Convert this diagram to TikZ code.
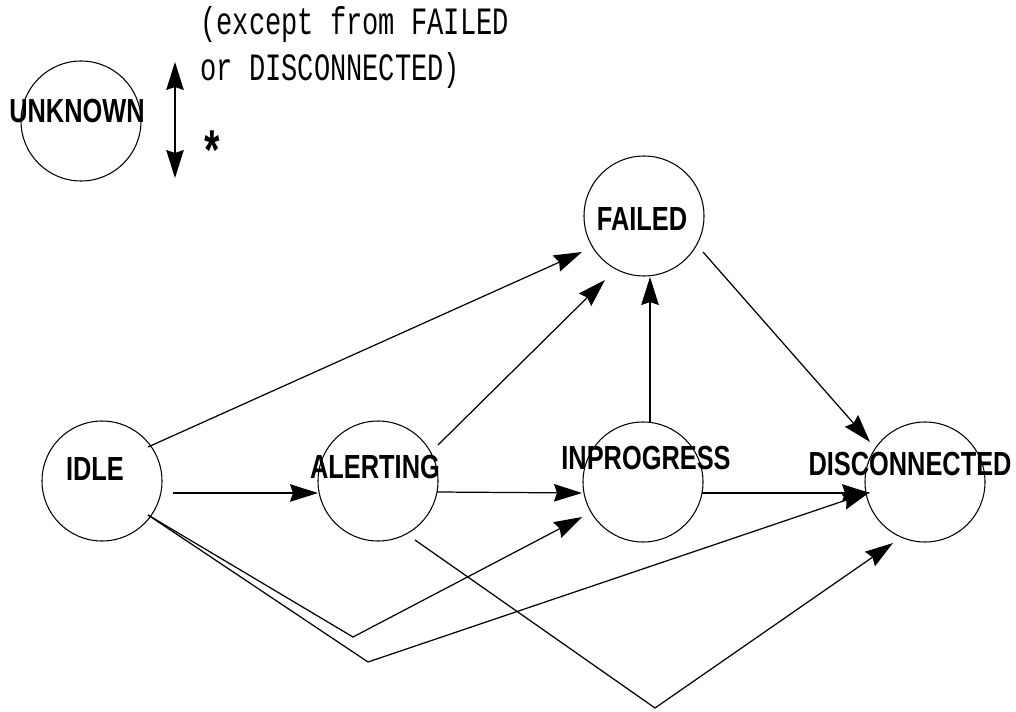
\documentclass[tikz,border=0pt]{standalone}
\usepackage{fontspec}
\newfontfamily\statefont[FakeStretch=0.76]{Liberation Sans}
\newfontfamily\notefont[FakeStretch=0.7]{Liberation Mono}
\usetikzlibrary{arrows.meta}

\begin{document}
\begin{tikzpicture}[
    >={Stealth[length=0.56cm, width=0.35cm, inset=0.06cm]},
    state/.style={circle, draw=black, line width=0.6pt, minimum size=2.4cm, inner sep=0pt},
    statename/.style={font=\statefont\bfseries\fontsize{19}{19}\selectfont, inner sep=0pt},
    note/.style={font=\notefont\fontsize{22}{26.2}\selectfont, align=left, inner sep=0pt},
    arrow/.style={draw=black, line width=0.7pt, ->}
]
    \fill[white] (0,0) rectangle (20.32,14.22);
    \useasboundingbox (0,0) rectangle (20.32,14.22);

    % Legend: UNKNOWN reachable from (almost) anywhere
    \node[state, label={[statename, shift={(-0.08,0.2)}]center:UNKNOWN}] (UNKNOWN) at (1.62,11.8) {};
    \coordinate (legendtop) at (3.5,12.98);
    \coordinate (legendbot) at (3.5,10.66);
    \draw[arrow, <->] (legendtop) -- (legendbot);
    \node[note, anchor=west] (except) at (4.0,13.27) {(except from FAILED\\or DISCONNECTED)};
    \node[note, font=\notefont\bfseries\fontsize{32}{32}\selectfont] (star) at (4.24,11.2) {*};

    % Call states
    \node[state, label={[statename, shift={(-0.04,-0.06)}]center:FAILED}]       (FAILED)       at (12.88,9.9) {};
    \node[state, label={[statename, shift={(-0.14,0.24)}]center:IDLE}]          (IDLE)         at (2.04,4.6) {};
    \node[state, label={[statename, shift={(-0.06,0.28)}]center:ALERTING}]      (ALERTING)     at (7.56,4.6) {};
    \node[state, label={[statename, shift={(0.06,0.47)}]center:INPROGRESS}]     (INPROGRESS)   at (12.86,4.58) {};
    \node[state, label={[statename, shift={(-0.3,0.36)}]center:DISCONNECTED}]   (DISCONNECTED) at (18.5,4.58) {};

    % Bend points of the long transitions
    \coordinate (dipA) at (7.06,1.48);
    \coordinate (dipB) at (7.36,0.98);
    \coordinate (dipC) at (13.1,0.06);

    % Main row
    \draw[arrow] ([shift={(1.42,-0.24)}]IDLE.center) -- ([shift={(-1.2,-0.24)}]ALERTING.center);
    \draw[arrow] ([shift={(1.18,-0.22)}]ALERTING.center) -- ([shift={(-1.22,-0.22)}]INPROGRESS.center);
    \draw[arrow] ([shift={(1.18,-0.22)}]INPROGRESS.center) -- ([shift={(-1.1,-0.22)}]DISCONNECTED.center);

    % Into FAILED
    \draw[arrow] ([shift={(0.92,0.68)}]IDLE.center) -- ([shift={(-1.24,-0.72)}]FAILED.center);
    \draw[arrow] ([shift={(1.2,0.72)}]ALERTING.center) -- ([shift={(-0.78,-1.28)}]FAILED.center);
    \draw[arrow] ([shift={(0.14,1.2)}]INPROGRESS.center) -- ([shift={(0.12,-1.22)}]FAILED.center);

    % FAILED -> DISCONNECTED
    \draw[arrow] ([shift={(1.18,-0.72)}]FAILED.center) -- ([shift={(-1.1,0.8)}]DISCONNECTED.center);

    % Long routes underneath
    \draw[arrow] ([shift={(0.92,-0.68)}]IDLE.center) -- (dipA) -- ([shift={(-1.22,-0.7)}]INPROGRESS.center);
    \draw[arrow] ([shift={(0.92,-0.68)}]IDLE.center) -- (dipB) -- ([shift={(-1.1,-0.2)}]DISCONNECTED.center);
    \draw[arrow] ([shift={(0.74,-1.18)}]ALERTING.center) -- (dipC) -- ([shift={(-0.64,-1.22)}]DISCONNECTED.center);
\end{tikzpicture}
\end{document}
